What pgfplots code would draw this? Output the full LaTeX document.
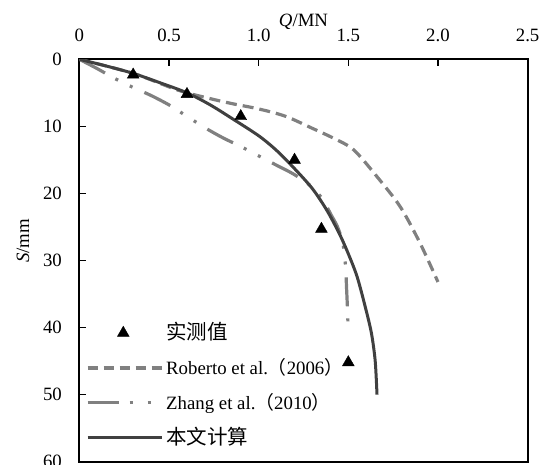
\documentclass[border=0pt]{standalone}
\usepackage{fontspec}
\setmainfont{Liberation Serif}
\newfontfamily\cjk{Noto Sans CJK SC}
\usepackage{pgfplots}
\pgfplotsset{compat=1.18}
\usetikzlibrary{calc}
\definecolor{robc}{gray}{0.50}
\definecolor{zhc}{gray}{0.50}
\definecolor{solc}{gray}{0.25}
\begin{document}
\fontsize{18.8pt}{22pt}\selectfont
\begin{tikzpicture}
\begin{axis}[name=ax, width=448.2pt, height=402.4pt, scale only axis,
  xmin=0, xmax=2.5, ymin=0, ymax=60, y dir=reverse,
  xtick={0,0.5,1,1.5,2,2.5}, xticklabels={0,0.5,1.0,1.5,2.0,2.5},
  ytick={0,10,20,30,40,50,60},
  xtick pos=top, xticklabel pos=top, ytick pos=left,
  tick align=inside, major tick length=7pt,
  tick style={line width=1.6pt, black},
  axis line style={line width=1.8pt, black},
  /pgf/number format/assume math mode=true,
  xticklabel style={inner sep=0pt, outer sep=0pt, anchor=south, yshift=17.8pt},
  yticklabel style={inner sep=0pt, outer sep=0pt, anchor=east, xshift=-17.5pt},
  xlabel={\textit{Q}/MN},
  xlabel style={at={(axis description cs:0.5,1)}, anchor=center, yshift=38pt, inner sep=0pt},
  ylabel={\textit{S}/mm},
  ylabel style={at={(axis description cs:-0.1258,0.5485)}, anchor=center, inner sep=0pt, rotate=0},
  legend style={at={(axis description cs:0.0147,0.3367)}, anchor=north west, draw=none, fill=none,
    inner sep=0pt, outer sep=0pt, row sep=22.3pt, column sep=3pt,
    nodes={inner sep=0pt, outer sep=0pt, text height=12.6pt, text depth=0pt, anchor=west}},
  legend cell align=left,
  legend image code/.code={\draw[#1] (0pt,0pt) -- (74pt,0pt);},
]
\addlegendimage{only marks, mark=triangle*, mark size=6.8pt, black,
  legend image code/.code={\draw[mark repeat=2,mark phase=2,##1] plot coordinates {(0pt,0pt) (35.7pt,0pt) (71.4pt,0pt)};}}
\addlegendentry{{\cjk\fontsize{20.5pt}{24pt}\selectfont 实测值}}
\addlegendimage{robc, line width=3.2pt, dash pattern=on 10pt off 6pt}
\addlegendentry{Roberto et al.{\cjk （}2006{\cjk ）}}
\addlegendimage{zhc, line width=3.2pt, dash pattern=on 31pt off 11pt on 3pt off 15pt on 3pt off 13pt}
\addlegendentry{Zhang et al.{\cjk （}2010{\cjk ）}}
\addlegendimage{solc, line width=3pt}
\addlegendentry{{\cjk\fontsize{20.5pt}{24pt}\selectfont 本文计算}}

% Roberto et al. (2006)
\addplot[forget plot, robc, line width=3.2pt, dash pattern=on 11pt off 6pt, smooth] coordinates {
(0,0) (0.3,2.1) (0.55,4.6) (0.72,5.8) (0.85,6.6) (1.0,7.4) (1.15,8.5) (1.3,10.3)
(1.42,11.8) (1.53,13.5) (1.66,17.5) (1.79,22.0) (1.9,27.4) (2.0,33.2)};
% Zhang et al. (2010)
\addplot[forget plot, zhc, line width=3.2pt, dash pattern=on 29pt off 12pt on 3pt off 13pt on 3pt off 13pt, smooth] coordinates {
(0,0) (0.1,1.4) (0.2,2.9) (0.3,4.2) (0.4,5.4) (0.5,6.8) (0.6,8.5) (0.7,10.2) (0.8,11.7)
(0.9,13.0) (1.0,14.4) (1.1,15.8) (1.2,17.2) (1.3,19.1) (1.36,21) (1.40,23) (1.44,25)
(1.47,27.5) (1.485,31) (1.49,34) (1.495,37) (1.5,41)};
% this paper
\addplot[forget plot, solc, line width=3pt, smooth] coordinates {
(0,0) (0.15,1.0) (0.3,2.1) (0.45,3.5) (0.6,5.0) (0.73,6.8) (0.85,8.8) (1.0,11.4)
(1.1,13.6) (1.2,16.3) (1.3,19.3) (1.38,22.5) (1.45,26) (1.5,29) (1.55,32.5)
(1.6,37.5) (1.63,41) (1.65,45) (1.66,50)};
% measured
\addplot[forget plot, only marks, mark=triangle*, mark size=6.8pt, black] coordinates {
(0.3,2.3) (0.6,5.2) (0.9,8.5) (1.2,15) (1.35,25.3) (1.5,45.2)};
\end{axis}
\pgfresetboundingbox
\path[use as bounding box] ($(ax.south west)+(-79.4pt,-3.3pt)$) rectangle ($(ax.north east)+(18.4pt,59.3pt)$);
\end{tikzpicture}
\end{document}
